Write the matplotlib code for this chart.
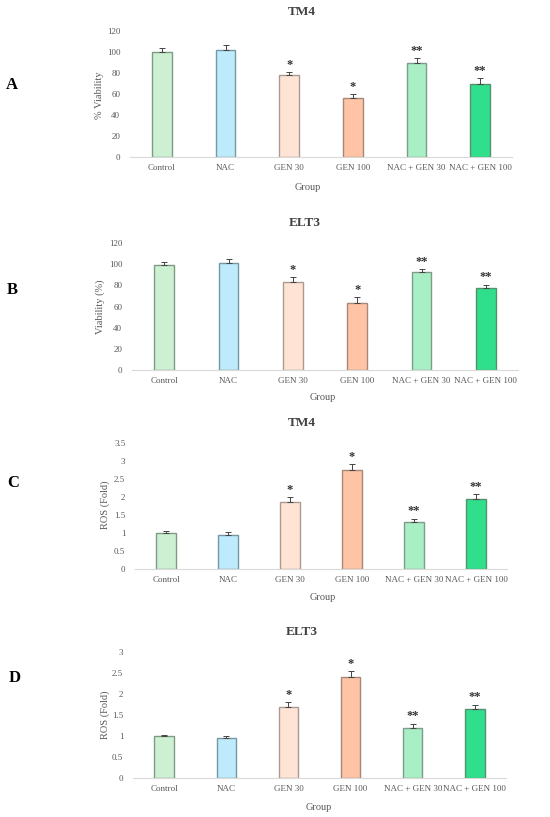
import matplotlib
matplotlib.use("Agg")
import matplotlib.pyplot as plt

groups = ["Control", "NAC", "GEN 30", "GEN 100", "NAC + GEN 30", "NAC + GEN 100"]
colors = ["#cdf0d2", "#bdebfb", "#ffe4d5", "#ffc4a6", "#a9efc5", "#2fdf8b"]
edges = ["#7f9a83", "#7598a2", "#ab9a91", "#a58878", "#7f9c88", "#55906f"]

# panel A - TM4 viability
via_tm4 = [100, 102, 78, 56, 90, 70]
via_tm4_err = [4, 5, 3, 4, 4, 5]
# panel B - ELT3 viability
via_elt3 = [99.5, 101, 83.5, 63.5, 92.5, 77.5]
via_elt3_err = [3, 4, 4, 5.5, 3, 3]
# panel C - TM4 ROS
ros_tm4 = [1.01, 0.95, 1.87, 2.76, 1.31, 1.95]
ros_tm4_err = [0.05, 0.07, 0.12, 0.15, 0.09, 0.12]
# panel D - ELT3 ROS
ros_elt3 = [1.0, 0.96, 1.70, 2.40, 1.20, 1.64]
ros_elt3_err = [0.03, 0.05, 0.10, 0.14, 0.09, 0.11]

stars = ["", "", "*", "*", "**", "**"]

W, H = 550, 817
fig = plt.figure(figsize=(W / 100, H / 100), dpi=100)
plt.rcParams['font.family'] = ['Liberation Serif', 'DejaVu Serif']

grey = "#595959"

panels = [
    # letter, title, ylabel, vals, errs, ymax, step, axes px (x0, x1, y0, ytop), title, group, letter, ylabel positions
    ("A", "TM4", "% Viability", via_tm4, via_tm4_err, 120, 20,
     (130, 512, 157, 31), (302, 12), (308, 187), (12, 85), (100, 95)),
    ("B", "ELT3", "Viability (%)", via_elt3, via_elt3_err, 120, 20,
     (132, 518, 370, 243), (305, 223), (323, 397), (12, 290), (100, 307)),
    ("C", "TM4", "ROS (Fold)", ros_tm4, ros_tm4_err, 3.5, 0.5,
     (135, 507, 569, 443), (302, 423), (323, 597), (13, 483), (105, 505)),
    ("D", "ELT3", "ROS (Fold)", ros_elt3, ros_elt3_err, 3, 0.5,
     (133, 506, 778, 652), (302, 632), (319, 807), (15, 678), (105, 715)),
]

for letter, title, ylab, vals, errs, ymax, step, box, tpos, gpos, lpos, ypos in panels:
    x0, x1, y0, yt = box
    ax = fig.add_axes([x0 / W, 1 - y0 / H, (x1 - x0) / W, (y0 - yt) / H])
    xs = range(len(groups))
    ax.bar(xs, vals, width=0.31, color=colors, edgecolor=edges, linewidth=1.0, zorder=2)
    ax.errorbar(xs, vals, yerr=[[0] * len(errs), errs], fmt="none", ecolor="#444444",
                elinewidth=0.7, capsize=2, capthick=0.7, zorder=3)
    for i in xs:
        if stars[i]:
            ax.annotate(stars[i], (i, vals[i] + errs[i]), xytext=(0, 1), textcoords="offset points",
                        ha="center", va="bottom", fontsize=9, fontweight="bold", color="#333333")
    ax.set_xlim(-0.5, len(groups) - 0.5)
    ax.set_ylim(0, ymax)
    ticks = []
    t = 0
    while t <= ymax + 1e-9:
        ticks.append(t)
        t += step
    ax.set_yticks(ticks)
    if step < 1:
        ax.set_yticklabels([("%g" % v) for v in ticks])
    ax.set_xticks(list(xs))
    ax.set_xticklabels(groups)
    ax.tick_params(axis="both", length=0, labelsize=6.5, colors=grey)
    ax.tick_params(axis="y", pad=7)
    ax.tick_params(axis="x", pad=5)
    for s in ["top", "right", "left"]:
        ax.spines[s].set_visible(False)
    ax.spines["bottom"].set_color("#d9d9d9")
    ax.spines["bottom"].set_linewidth(0.8)

    fig.text(tpos[0] / W, 1 - tpos[1] / H, title, ha="center", va="center",
             fontsize=9.5, fontweight="bold", color="#404040")
    fig.text(gpos[0] / W, 1 - gpos[1] / H, "Group", ha="center", va="center",
             fontsize=7.5, color=grey)
    fig.text(lpos[0] / W, 1 - lpos[1] / H, letter, ha="center", va="center",
             fontsize=12, fontweight="bold", color="black")
    fig.text(ypos[0] / W, 1 - ypos[1] / H, ylab, ha="center", va="center",
             rotation=90, fontsize=7.5, color=grey)

fig.savefig("out.png", dpi=100, facecolor="white")
